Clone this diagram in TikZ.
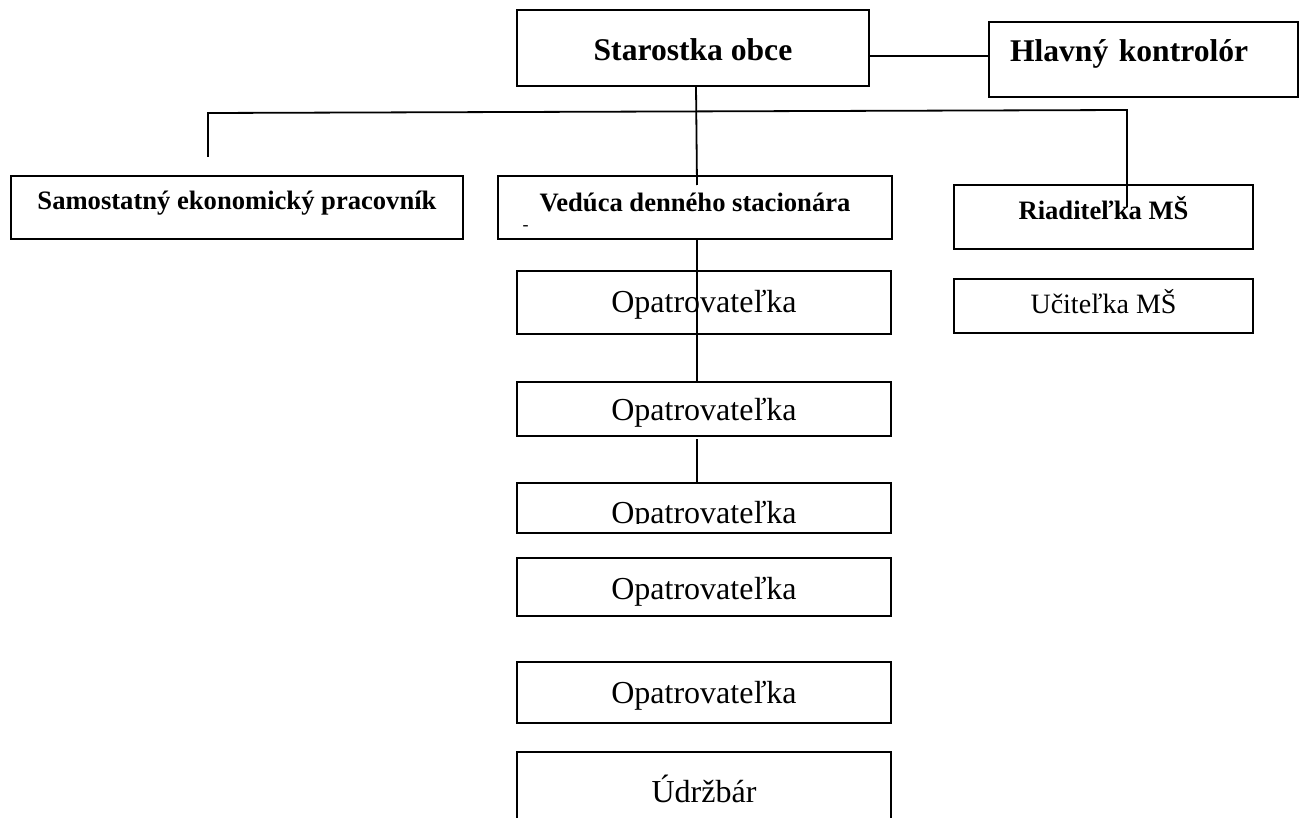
\documentclass[tikz,border=0pt]{standalone}
\usepackage{fontspec}
\setmainfont{Liberation Serif}
\usetikzlibrary{positioning}

\newcommand{\fsize}[1]{\fontsize{#1}{#1}\selectfont}

\begin{document}
\begin{tikzpicture}[
  x=1pt, y=-1pt,
  box/.style={rectangle, draw, line width=1.8pt, inner sep=0pt, outer sep=0pt, align=center},
  head/.style={box, font=\fsize{31.6}\bfseries},
  sub/.style={box, font=\fsize{26.6}\bfseries, minimum height=63pt},
  opat/.style={box, font=\fsize{32}, minimum width=374pt},
  link/.style={line width=1.8pt}
]
\useasboundingbox (0,0) rectangle (1303,818);

% top row
\node[head, minimum width=352pt, minimum height=76pt, text height=26pt, text depth=0pt] (starostka) at (693,48) {Starostka obce};
\node[head, minimum width=309pt, minimum height=75pt, text width=267pt, inner xsep=21pt, align=left,
  text height=20pt, text depth=15pt] (hlavny) at (1143.5,59.5) {Hlavný kontrolór};

% second row
\node[sub, minimum width=452pt, text height=20pt, text depth=15pt] (samostatny) at (237,207.5) {Samostatný ekonomický pracovník};
\node[sub, minimum width=394pt, text height=20pt, text depth=11pt] (veduca) at (695,207.5) {Vedúca denného stacionára};
\node[font=\fsize{18}, inner sep=0pt] (mark) at (525.5,228) {-};
\node[sub, minimum width=299pt, minimum height=64pt, text height=20pt, text depth=14pt] (riaditelka) at (1103.5,217) {Riaditeľka MŠ};
\node[box, font=\fsize{28}, minimum width=299pt, minimum height=54pt, text height=20pt, text depth=6pt,
  below=30pt of riaditelka] (ucitelka) {Učiteľka MŠ};

% column under the day centre
\node[opat, minimum height=63pt, text height=20pt, text depth=1pt, below=32pt of veduca, xshift=9pt] (opat1) {Opatrovateľka};
\node[opat, minimum height=54pt, text height=22pt, text depth=0pt, below=48pt of opat1] (opat2) {Opatrovateľka};
\node[opat, minimum height=50pt, below=47pt of opat2] (opat3) {};
\begin{scope}
  \clip (opat3.north west) rectangle ([yshift=10pt]opat3.south east);
  \node[font=\fsize{32}, inner sep=0pt, anchor=base] (opat3text) at ([yshift=10pt]opat3.south) {Opatrovateľka};
\end{scope}
\node[opat, minimum height=58pt, text height=24pt, text depth=0pt, below=25pt of opat3] (opat4) {Opatrovateľka};
\node[opat, minimum height=61pt, text height=21pt, text depth=0pt, below=46pt of opat4] (opat5) {Opatrovateľka};
\node[opat, minimum height=100pt, text height=10pt, text depth=10pt, below=29pt of opat5] (udrzbar) {Údržbár};

% connectors
\coordinate (busL) at (208,113);
\coordinate (busR) at (1127,110);
\draw[link] ([yshift=-8pt]starostka.east) -- ([yshift=3.5pt]hlavny.west);
\draw[link] ([xshift=3pt]starostka.south) -- ([xshift=2pt, yshift=-9pt]veduca.north);
\draw[link] ([yshift=19pt]samostatny.north -| busL) -- (busL) -- (busR)
  -- ([xshift=23.5pt, yshift=-22pt]riaditelka.north);
\draw[link] ([xshift=2pt]veduca.south) -- ([xshift=-7pt]opat2.north);
\draw[link] ([xshift=-7pt, yshift=-3pt]opat2.south) -- ([xshift=-7pt]opat3.north);
\end{tikzpicture}
\end{document}
